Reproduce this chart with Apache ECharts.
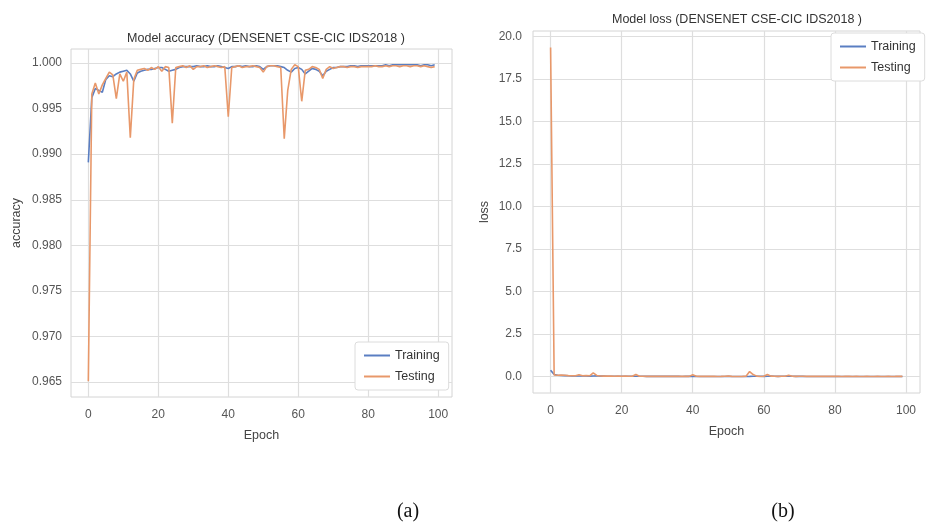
<!DOCTYPE html>
<html>
<head>
<meta charset="utf-8">
<title>DENSENET CSE-CIC IDS2018 training curves</title>
<script src="https://cdn.jsdelivr.net/npm/echarts@6/dist/echarts.min.js"></script>
<style>
  html, body { margin: 0; padding: 0; background: #fff; }
  #chart { width: 928px; height: 527px; }
</style>
</head>
<body>
<div id="chart"></div>
<script>
// Per-epoch accuracy (epochs 0..99)
const accTrain = [
  0.9891, 0.9962, 0.9972, 0.9970, 0.9968, 0.9982, 0.9986, 0.9985, 0.9988, 0.9990,
  0.9991, 0.9992, 0.9988, 0.9980, 0.9989, 0.9991, 0.9992, 0.9993, 0.9993, 0.9994,
  0.9995, 0.9995, 0.9993, 0.9991, 0.9992, 0.9993, 0.9995, 0.9996, 0.9996, 0.9996,
  0.9996, 0.9997, 0.9996, 0.9996, 0.9997, 0.9996, 0.9996, 0.9997, 0.9996, 0.9995,
  0.9994, 0.9996, 0.9996, 0.9997, 0.9996, 0.9997, 0.9996, 0.9996, 0.9997, 0.9996,
  0.9993, 0.9996, 0.9997, 0.9997, 0.9997, 0.9996, 0.9995, 0.9992, 0.9990, 0.9994,
  0.9995, 0.9993, 0.9988, 0.9991, 0.9994, 0.9993, 0.9991, 0.9986, 0.9991, 0.9993,
  0.9995, 0.9995, 0.9996, 0.9996, 0.9996, 0.9997, 0.9997, 0.9996, 0.9997, 0.9997,
  0.9997, 0.9997, 0.9997, 0.9997, 0.9997, 0.9998, 0.9997, 0.9998, 0.9998, 0.9998,
  0.9998, 0.9998, 0.9998, 0.9998, 0.9998, 0.9997, 0.9998, 0.9998, 0.9997, 0.9998
];
const accTest = [
  0.9651, 0.9966, 0.9978, 0.9966, 0.9976, 0.9983, 0.9990, 0.9987, 0.9961, 0.9988,
  0.9980, 0.9990, 0.9918, 0.9982, 0.9992, 0.9993, 0.9994, 0.9992, 0.9995, 0.9993,
  0.9996, 0.9991, 0.9996, 0.9995, 0.9934, 0.9995, 0.9996, 0.9997, 0.9995, 0.9997,
  0.9993, 0.9996, 0.9996, 0.9997, 0.9995, 0.9996, 0.9997, 0.9996, 0.9995, 0.9996,
  0.9941, 0.9995, 0.9996, 0.9997, 0.9995, 0.9996, 0.9996, 0.9997, 0.9996, 0.9995,
  0.9990, 0.9996, 0.9997, 0.9997, 0.9996, 0.9995, 0.9917, 0.9970, 0.9993, 0.9998,
  0.9996, 0.9958, 0.9992, 0.9993, 0.9996, 0.9995, 0.9993, 0.9983, 0.9993, 0.9996,
  0.9994, 0.9995, 0.9996, 0.9996, 0.9995, 0.9996, 0.9996, 0.9995, 0.9996, 0.9996,
  0.9996, 0.9996, 0.9997, 0.9996, 0.9996, 0.9997, 0.9996, 0.9997, 0.9997, 0.9996,
  0.9997, 0.9997, 0.9996, 0.9997, 0.9997, 0.9996, 0.9997, 0.9996, 0.9995, 0.9996
];

// Per-epoch loss (epochs 0..99)
const lossTrain = [
  0.38, 0.12, 0.08, 0.07, 0.06, 0.05, 0.045, 0.04, 0.04, 0.035,
  0.035, 0.03, 0.035, 0.05, 0.03, 0.028, 0.025, 0.024, 0.022, 0.02,
  0.02, 0.019, 0.022, 0.025, 0.024, 0.02, 0.018, 0.017, 0.016, 0.016,
  0.015, 0.015, 0.014, 0.014, 0.014, 0.013, 0.013, 0.012, 0.013, 0.014,
  0.016, 0.013, 0.012, 0.012, 0.011, 0.011, 0.011, 0.010, 0.011, 0.012,
  0.016, 0.012, 0.010, 0.010, 0.010, 0.011, 0.014, 0.020, 0.025, 0.018,
  0.015, 0.018, 0.028, 0.022, 0.017, 0.018, 0.022, 0.030, 0.022, 0.017,
  0.014, 0.013, 0.012, 0.011, 0.011, 0.010, 0.010, 0.010, 0.009, 0.009,
  0.009, 0.008, 0.008, 0.008, 0.008, 0.007, 0.007, 0.007, 0.007, 0.006,
  0.006, 0.006, 0.006, 0.006, 0.006, 0.006, 0.005, 0.006, 0.005, 0.005
];
const lossTest = [
  19.35, 0.10, 0.08, 0.10, 0.08, 0.06, 0.05, 0.05, 0.11, 0.05,
  0.07, 0.05, 0.22, 0.07, 0.04, 0.03, 0.03, 0.03, 0.025, 0.03,
  0.02, 0.03, 0.02, 0.02, 0.13, 0.02, 0.02, 0.015, 0.02, 0.015,
  0.025, 0.015, 0.015, 0.013, 0.02, 0.015, 0.013, 0.015, 0.02, 0.015,
  0.11, 0.02, 0.015, 0.013, 0.02, 0.015, 0.015, 0.012, 0.015, 0.02,
  0.04, 0.015, 0.012, 0.012, 0.015, 0.02, 0.30, 0.12, 0.03, 0.012,
  0.02, 0.13, 0.03, 0.025, 0.015, 0.02, 0.025, 0.08, 0.025, 0.015,
  0.02, 0.018, 0.015, 0.015, 0.02, 0.015, 0.015, 0.02, 0.015, 0.015,
  0.015, 0.015, 0.012, 0.015, 0.015, 0.012, 0.015, 0.012, 0.012, 0.015,
  0.012, 0.012, 0.015, 0.012, 0.012, 0.015, 0.012, 0.015, 0.02, 0.015
];

// Tick labels
const epochTicks = [0, 20, 40, 60, 80, 100];
const accTicks = [0.965, 0.970, 0.975, 0.980, 0.985, 0.990, 0.995, 1.000];
const lossTicks = [0, 2.5, 5, 7.5, 10, 12.5, 15, 17.5, 20];

const seriesNames = ['Training', 'Testing'];
const colorTrain = '#5a7ec2';
const colorTest = '#e8986a';

const FONT = '"Liberation Sans", Arial, sans-serif';
const gridLine = { show: true, lineStyle: { color: '#dedede', width: 1.2 } };
const withEpoch = arr => arr.map((v, i) => [i, v]);

// matplotlib-style 5% padding around the data range
function padded(lo, hi) {
  const m = (hi - lo) * 0.05;
  return [lo - m, hi + m];
}
const epochRange = padded(0, accTrain.length - 1);
const accRange = padded(Math.min(...accTest, ...accTrain), Math.max(...accTest, ...accTrain));
const lossRange = padded(Math.min(...lossTest, ...lossTrain), Math.max(...lossTest, ...lossTrain));

function xAxisFor(gridIndex) {
  return {
    type: 'value', gridIndex,
    min: epochRange[0], max: epochRange[1],
    name: 'Epoch', nameLocation: 'middle', nameGap: 32,
    nameTextStyle: { fontFamily: FONT, fontSize: 12.5, color: '#444' },
    axisLine: { show: false }, axisTick: { show: false, customValues: epochTicks },
    axisLabel: { customValues: epochTicks, margin: 12, fontFamily: FONT, fontSize: 12, color: '#555' },
    splitLine: gridLine
  };
}

function legendAt(left, top) {
  return {
    data: seriesNames, orient: 'vertical', left, top, itemWidth: 26, itemHeight: 2, icon: 'rect',
    itemGap: 8, padding: [7, 9, 7, 9], backgroundColor: '#fff', borderColor: '#dcdcdc', borderWidth: 1, borderRadius: 3,
    textStyle: { fontFamily: FONT, fontSize: 12.5, color: '#333' }
  };
}

const chart = echarts.init(document.getElementById('chart'), null, { renderer: 'canvas' });
chart.setOption({
  backgroundColor: '#fff',
  animation: false,
  title: [
    { text: 'Model accuracy (DENSENET CSE-CIC IDS2018 )', left: 261, top: 27, textAlign: 'center',
      textStyle: { fontFamily: FONT, fontSize: 12.5, fontWeight: 'normal', color: '#333' } },
    { text: 'Model loss (DENSENET CSE-CIC IDS2018 )', left: 732, top: 8, textAlign: 'center',
      textStyle: { fontFamily: FONT, fontSize: 12.5, fontWeight: 'normal', color: '#333' } }
  ],
  legend: [legendAt(355, 342), legendAt(831, 33)],
  grid: [
    { left: 71, top: 49, width: 381, height: 348, show: true, borderColor: '#d4d4d4', borderWidth: 1, backgroundColor: '#fff' },
    { left: 533, top: 31, width: 387, height: 362, show: true, borderColor: '#d4d4d4', borderWidth: 1, backgroundColor: '#fff' }
  ],
  xAxis: [xAxisFor(0), xAxisFor(1)],
  yAxis: [
    { type: 'value', gridIndex: 0, min: accRange[0], max: accRange[1],
      name: 'accuracy', nameLocation: 'middle', nameGap: 48,
      nameTextStyle: { fontFamily: FONT, fontSize: 12.5, color: '#444' },
      axisLine: { show: false }, axisTick: { show: false, customValues: accTicks },
      axisLabel: { customValues: accTicks, margin: 9, fontFamily: FONT, fontSize: 12, color: '#555',
        formatter: v => v.toFixed(3) },
      splitLine: gridLine },
    { type: 'value', gridIndex: 1, min: lossRange[0], max: lossRange[1],
      name: 'loss', nameLocation: 'middle', nameGap: 42,
      nameTextStyle: { fontFamily: FONT, fontSize: 12.5, color: '#444' },
      axisLine: { show: false }, axisTick: { show: false, customValues: lossTicks },
      axisLabel: { customValues: lossTicks, margin: 11, fontFamily: FONT, fontSize: 12, color: '#555',
        formatter: v => v.toFixed(1) },
      splitLine: gridLine }
  ],
  series: [
    { name: 'Training', type: 'line', xAxisIndex: 0, yAxisIndex: 0, data: withEpoch(accTrain),
      showSymbol: false, color: colorTrain, lineStyle: { width: 1.6 } },
    { name: 'Testing', type: 'line', xAxisIndex: 0, yAxisIndex: 0, data: withEpoch(accTest),
      showSymbol: false, color: colorTest, lineStyle: { width: 1.6 } },
    { name: 'Training', type: 'line', xAxisIndex: 1, yAxisIndex: 1, data: withEpoch(lossTrain),
      showSymbol: false, color: colorTrain, lineStyle: { width: 1.6 } },
    { name: 'Testing', type: 'line', xAxisIndex: 1, yAxisIndex: 1, data: withEpoch(lossTest),
      showSymbol: false, color: colorTest, lineStyle: { width: 1.6 } }
  ],
  graphic: [
    { type: 'text', x: 408, y: 512, style: { text: '(a)', fontFamily: '"Liberation Serif", "DejaVu Serif", serif',
      fontSize: 20, fill: '#111', align: 'center', verticalAlign: 'middle' } },
    { type: 'text', x: 783, y: 512, style: { text: '(b)', fontFamily: '"Liberation Serif", "DejaVu Serif", serif',
      fontSize: 20, fill: '#111', align: 'center', verticalAlign: 'middle' } }
  ]
});
</script>
</body>
</html>
